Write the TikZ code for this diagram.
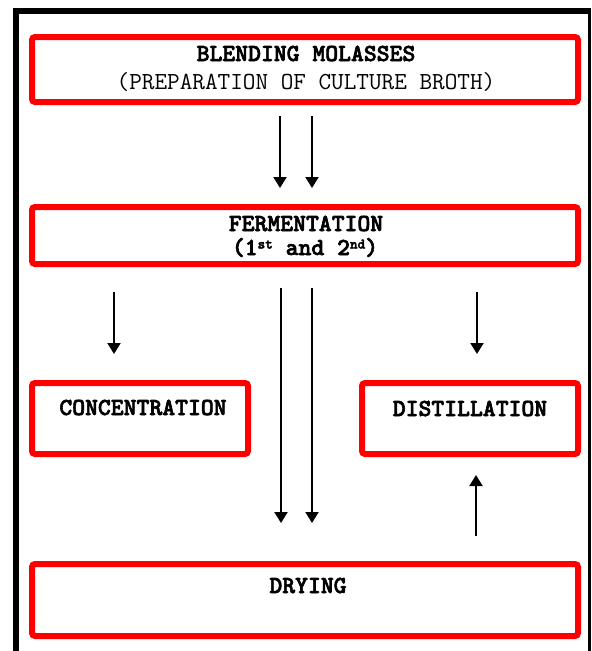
\documentclass[tikz,border=0pt]{standalone}
\usepackage{fontspec}
\newfontfamily\lmtb[Extension=.otf, FakeBold=2.5]{lmmonolt10-bold}
\usetikzlibrary{arrows.meta}
\definecolor{boxred}{RGB}{255,0,0}
\tikzset{
  redbox/.style={draw=boxred, line width=6pt, rounded corners=3pt, inner sep=0pt, minimum width=546pt},
  lbl/.style={anchor=base, inner sep=0pt, font=\lmtb\fontsize{24.5}{26}\selectfont},
  lblreg/.style={anchor=base, inner sep=0pt, font=\ttfamily\fontsize{24.5}{26}\selectfont},
  arr/.style={line width=2pt, -{Triangle[length=11pt,width=13pt]}},
  frame/.style={line width=5.8pt, line join=miter}
}
\newcommand{\supr}[1]{\raisebox{6.5pt}{\fontsize{14.5}{15}\selectfont #1}}
\begin{document}
\begin{tikzpicture}[x=1pt,y=-1pt]
\useasboundingbox (0,0) rectangle (592,651);
% outer frame
\draw[frame] (16,651) -- (16,11) -- (590.5,11);
\draw[line width=2.5pt] (589.5,11) -- (589.5,651);
% boxes
\node[redbox, minimum height=65pt] (blend) at (305,69.5) {};
\node[redbox, minimum height=57pt] (ferm) at (305,235.5) {};
\node[redbox, minimum width=216pt, minimum height=71pt] (conc) at (140,418.5) {};
\node[redbox, minimum width=216pt, minimum height=71pt] (dist) at (470,418.5) {};
\node[redbox, minimum height=72pt] (dry) at (305,600) {};
% texts
\node[lbl] (t1) at (306,61) {BLENDING MOLASSES};
\node[lblreg] (t2) at (306,89) {(PREPARATION OF CULTURE BROTH)};
\node[lbl] (t3) at (306,231) {FERMENTATION};
\node[lbl] (t4) at (305,255) {(1\supr{st} and 2\supr{nd})};
\node[lbl] (t5) at (143,415) {CONCENTRATION};
\node[lbl] (t6) at (470,416) {DISTILLATION};
\node[lbl] (t7) at (308,593) {DRYING};
% arrow end points
\coordinate (b1s) at (280,116); \coordinate (b1e) at (280,188);
\coordinate (b2s) at (312,116); \coordinate (b2e) at (312,188);
\coordinate (c1s) at (281,288); \coordinate (c1e) at (281,523);
\coordinate (c2s) at (312,288); \coordinate (c2e) at (312,523);
\coordinate (ls) at (114,292); \coordinate (le) at (114,354);
\coordinate (rs) at (477,292); \coordinate (re) at (477,354);
\coordinate (us) at (476,536); \coordinate (ue) at (476,475);
% arrows
\draw[arr] (b1s) -- (b1e);
\draw[arr] (b2s) -- (b2e);
\draw[arr] (c1s) -- (c1e);
\draw[arr] (c2s) -- (c2e);
\draw[arr] (ls) -- (le);
\draw[arr] (rs) -- (re);
\draw[arr] (us) -- (ue);
\end{tikzpicture}
\end{document}
